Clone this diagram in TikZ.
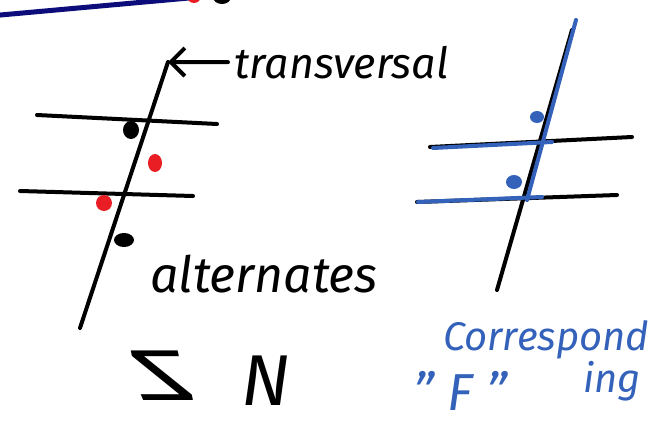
\documentclass[tikz,border=0pt]{standalone}
\usepackage{fontspec}
\setmainfont{Fira Sans}
\usepackage{xcolor}
\usetikzlibrary{arrows.meta}
\definecolor{penblue}{RGB}{52,98,186}
\definecolor{penred}{RGB}{232,30,36}
\definecolor{slidenavy}{RGB}{12,12,122}

\begin{document}
\begin{tikzpicture}[x=1pt, y=-1pt,
    ink/.style={line width=4pt, line cap=round},
    blueink/.style={ink, penblue},
    word/.style={font=\fontsize{43}{43}\selectfont\itshape, inner sep=0pt},
    bigword/.style={font=\fontsize{72}{72}\selectfont\itshape, inner sep=0pt},
    spot/.style={fill, draw=none}]

\useasboundingbox (0,0) rectangle (654,423);
\clip (0,0) rectangle (654,423);

% slide edge above
\draw[slidenavy, line width=5pt] (-5,15.5) -- (200,-3);
\fill[penred] (194,-4) ellipse (7 and 7);
\fill (222,-3) ellipse (9 and 7);

% alternate interior angles
\coordinate (ttop) at (168,62);
\coordinate (tbot) at (80,328);
\coordinate (p1) at (37,115);
\coordinate (p2) at (217,124);
\coordinate (q1) at (20,191);
\coordinate (q2) at (193,196);
\draw[ink] (ttop) -- (tbot);
\draw[ink] (p1) -- (p2);
\draw[ink] (q1) -- (q2);
\fill[spot] (131,130) ellipse (8 and 9);
\fill[spot, penred] (155,163) ellipse (7 and 9);
\fill[spot, penred] (104,203) ellipse (8 and 8);
\fill[spot] (124,240) ellipse (10 and 7);

\node[word, anchor=base west] (tr) at (234,78) {transversal};
\draw[ink, -{Straight Barb[length=14pt, width=28pt]}] ([xshift=-6pt]tr.west) -- (ttop);

\node[word, anchor=base west, font=\fontsize{50}{50}\selectfont\itshape] (alt) at (150,292) {alternates};

\node[bigword, anchor=base, xscale=-1.6] (zed) at (163,400) {Z};
\node[bigword, anchor=base] (en) at (266,405) {N};

% corresponding angles
\coordinate (rtop) at (572,30);
\coordinate (rbot) at (497,290);
\coordinate (r1) at (430,147);
\coordinate (r2) at (632,137);
\coordinate (s1) at (417,202);
\coordinate (s2) at (617,195);
\draw[ink] (rtop) -- (rbot);
\draw[ink] (r1) -- (r2);
\draw[ink] (s1) -- (s2);
\coordinate (bt) at (576,20);
\coordinate (bb) at (527,200);
\draw[blueink] (bt) -- (bb);
\draw[blueink] (433,148) -- (552,142);
\draw[blueink] (418,202) -- (542,197);
\fill[spot, penblue] (537,117) ellipse (7 and 6);
\fill[spot, penblue] (514,182) ellipse (8 and 7);

\node[word, penblue, anchor=base west, font=\fontsize{40}{40}\selectfont\itshape] (cor) at (443,350) {Correspond};
\node[word, penblue, anchor=base west, font=\fontsize{40}{40}\selectfont\itshape] (ing) at (583,392) {ing};
\node[word, penblue, anchor=base west, font=\fontsize{52}{52}\selectfont\itshape] (eff) at (413,410) {" F "};
\end{tikzpicture}
\end{document}
